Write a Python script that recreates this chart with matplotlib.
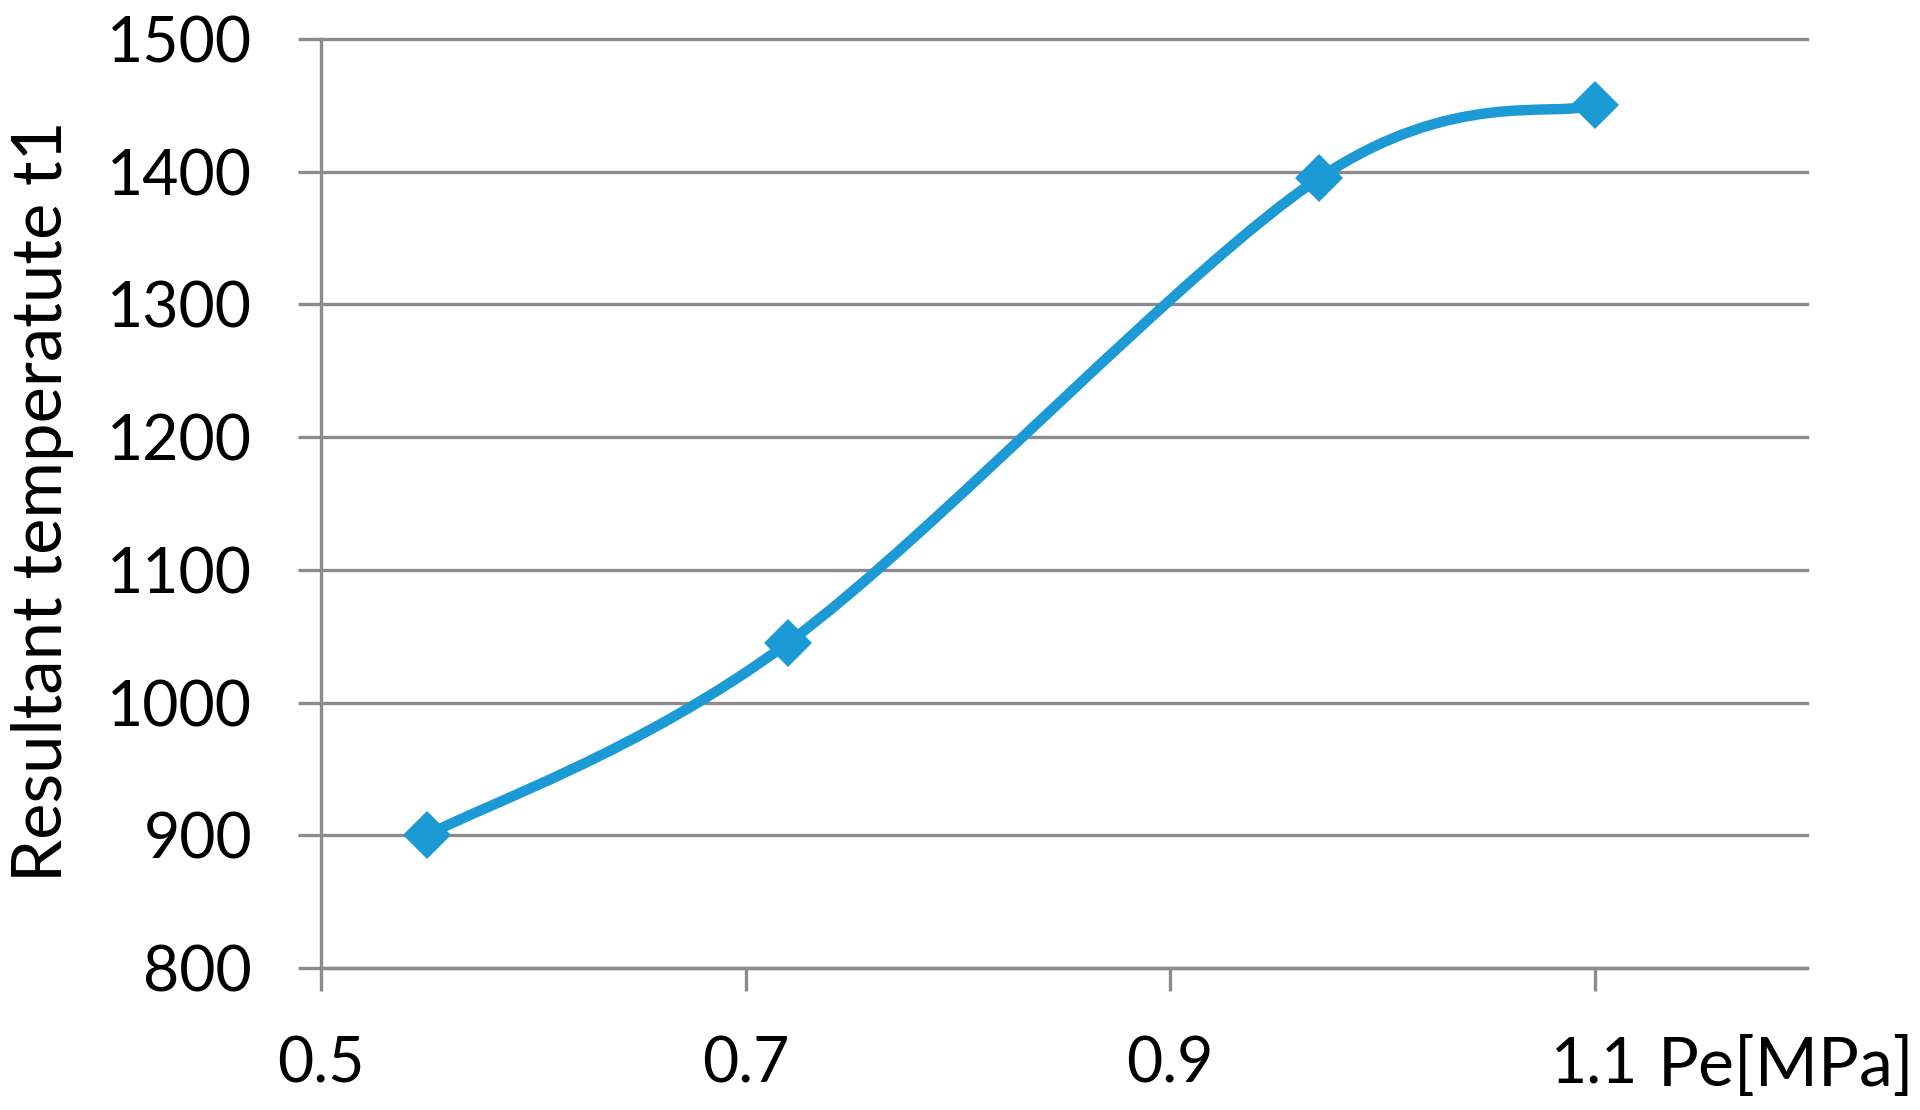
import numpy as np
import matplotlib
matplotlib.use("Agg")
import matplotlib.pyplot as plt
from matplotlib.path import Path
from matplotlib.patches import PathPatch

# values
pressure = [0.55, 0.72, 0.97, 1.10]       # Pe [MPa]
temperature = [900, 1045, 1395, 1450]     # resultant temperature t1
x_ticks = [0.5, 0.7, 0.9, 1.1]
y_ticks = [800, 900, 1000, 1100, 1200, 1300, 1400, 1500]

blue = "#1c9ad6"
gray = "#8c8c8c"
plt.rcParams['font.family'] = ['Lato', 'DejaVu Sans']

W, H = 1920, 1110
fig = plt.figure(figsize=(W / 100, H / 100), dpi=100)
ax = fig.add_axes([321 / W, 1 - 968 / H, (1807 - 321) / W, (968 - 39) / H])
ax.set_xlim(0.5, 1.2)
ax.set_ylim(800, 1500)

for side in ["top", "right"]:
    ax.spines[side].set_visible(False)
for side in ["left", "bottom"]:
    ax.spines[side].set_color(gray)
    ax.spines[side].set_linewidth(2.4)

# horizontal gridlines (drawn unclipped so the top one is full width)
for yv in y_ticks:
    ax.axhline(yv, color=gray, lw=2.4, clip_on=False, zorder=1)

ax.set_xticks(x_ticks)
ax.set_xticklabels([f"{v:.1f}" for v in x_ticks])
ax.set_yticks(y_ticks)
ax.set_yticklabels([str(v) for v in y_ticks])
ax.tick_params(axis="both", direction="out", length=16.5, width=2.4,
               color=gray, labelsize=45, labelcolor="black")
ax.tick_params(axis="y", pad=33)
ax.tick_params(axis="x", pad=32)

# smoothed line like a spreadsheet chart: bezier through the points in pixel space
pts = ax.transData.transform(np.column_stack([pressure, temperature]))
n = len(pts)
verts = [pts[0]]
codes = [Path.MOVETO]
for i in range(n - 1):
    p0 = pts[max(i - 1, 0)]
    p1 = pts[i]
    p2 = pts[i + 1]
    p3 = pts[min(i + 2, n - 1)]
    c1 = p1 + (p2 - p0) / 6.0
    c2 = p2 - (p3 - p1) / 6.0
    verts += [c1, c2, p2]
    codes += [Path.CURVE4] * 3
verts = ax.transData.inverted().transform(np.array(verts))
curve = PathPatch(Path(verts, codes), facecolor="none", edgecolor=blue,
                  lw=7.5, capstyle="round", joinstyle="round", zorder=3)
ax.add_patch(curve)

ax.plot(pressure, temperature, linestyle="none", marker="D", markersize=24,
        markerfacecolor=blue, markeredgewidth=0, zorder=4, clip_on=False)

fig.text(11 / W, 1 - 501 / H, "Resultant temperatute t1", rotation=90,
         ha="left", va="center", fontsize=49.5)
fig.text(1658 / W, 1 - 1086 / H, "Pe[MPa]", ha="left", va="baseline", fontsize=49)

fig.savefig("out.png", dpi=100)
